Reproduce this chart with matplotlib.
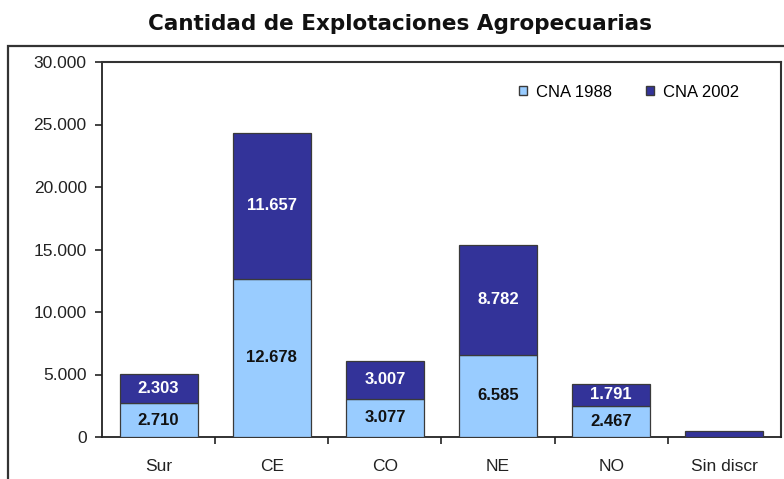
import matplotlib
matplotlib.use("Agg")
from matplotlib import pyplot as plt
from matplotlib.patches import Rectangle, Patch

regiones = ["Sur", "CE", "CO", "NE", "NO", "Sin discr"]
cna_1988 = [2710, 12678, 3077, 6585, 2467, 0]
cna_2002 = [2303, 11657, 3007, 8782, 1791, 450]
etiq_1988 = ["2.710", "12.678", "3.077", "6.585", "2.467", ""]
etiq_2002 = ["2.303", "11.657", "3.007", "8.782", "1.791", ""]
yticks = [0, 5000, 10000, 15000, 20000, 25000, 30000]
yticklabels = ["0", "5.000", "10.000", "15.000", "20.000", "25.000", "30.000"]

plt.rcParams['font.family'] = ['Liberation Sans', 'DejaVu Sans']

claro = "#99CCFF"
oscuro = "#333399"
borde = "#3a3a3a"

fig = plt.figure(figsize=(7.84, 4.79), dpi=100)

# marco exterior del grafico
fig.patches.append(Rectangle((8 / 784, -0.05), 1.2, 1 - 46 / 479 + 0.05,
                             transform=fig.transFigure, fill=False,
                             edgecolor="#333333", linewidth=1.6))

ax = fig.add_axes([102 / 784, 1 - 437 / 479, 679 / 784, 375 / 479])

x = list(range(len(regiones)))
ancho = 0.69
ax.bar(x, cna_1988, width=ancho, color=claro, edgecolor=borde,
       linewidth=0.9, label="CNA 1988", zorder=3)
ax.bar(x, cna_2002, width=ancho, bottom=cna_1988, color=oscuro,
       edgecolor=borde, linewidth=0.9, label="CNA 2002", zorder=3)

for i in x:
    if etiq_1988[i]:
        ax.text(i, cna_1988[i] / 2, etiq_1988[i], ha="center", va="center",
                fontsize=12, fontweight="bold", color="#111111", zorder=4)
    if etiq_2002[i]:
        ax.text(i, cna_1988[i] + cna_2002[i] / 2, etiq_2002[i], ha="center",
                va="center", fontsize=12, fontweight="bold", color="white",
                zorder=4)

ax.set_xlim(-0.5, len(regiones) - 0.5)
ax.set_ylim(0, 30000)
ax.set_yticks(yticks)
ax.set_yticklabels(yticklabels, fontsize=12.5, color="#222222")
ax.set_xticks(x)
ax.set_xticklabels(regiones, fontsize=12.5, color="#222222")
ax.tick_params(axis="x", length=0, pad=16)
ax.set_xticks([i + 0.5 for i in x[:-1]], minor=True)
ax.tick_params(axis="x", which="minor", length=5, width=1.2, color="#222222")
ax.tick_params(axis="y", length=5, width=1.2, color="#222222", pad=6)

for lado in ["left", "bottom"]:
    ax.spines[lado].set_color("#222222")
    ax.spines[lado].set_linewidth(1.3)
for lado in ["top", "right"]:
    ax.spines[lado].set_color("#333333")
    ax.spines[lado].set_linewidth(1.5)

ax.legend(handles=[Patch(facecolor=claro, edgecolor=borde, label="CNA 1988"),
                   Patch(facecolor=oscuro, edgecolor=borde, label="CNA 2002")],
          loc="center left", bbox_to_anchor=((519 - 102) / 679, (437 - 92) / 375),
          ncol=2, frameon=False, borderpad=0, borderaxespad=0,
          fontsize=12, handlelength=0.5, handleheight=0.5, handletextpad=0.55,
          columnspacing=2.0)

fig.text(400 / 784, 1 - 24 / 479, "Cantidad de Explotaciones Agropecuarias",
         ha="center", va="center", fontsize=15.5, fontweight="bold",
         family="DejaVu Sans", color="#111111")

plt.savefig("out.png", dpi=100)
